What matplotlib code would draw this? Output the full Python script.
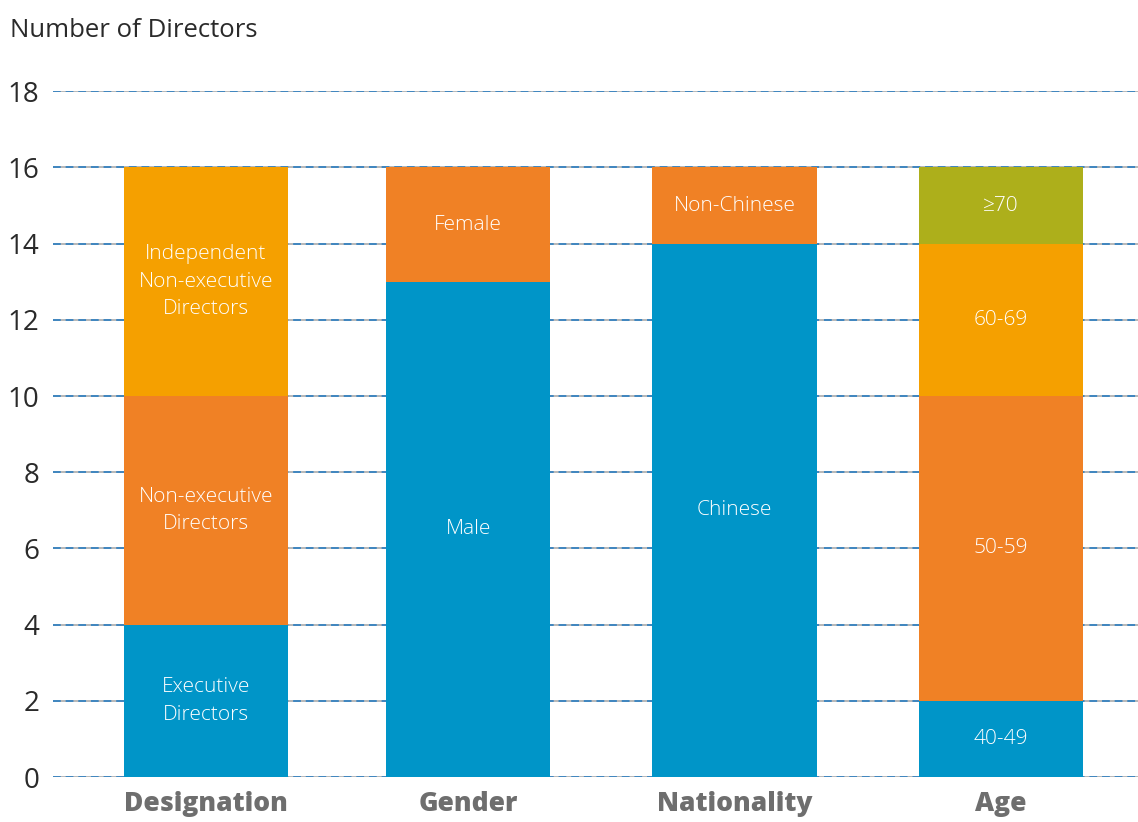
import matplotlib
matplotlib.use("Agg")
import matplotlib.pyplot as plt
import numpy as np

categories = ["Designation", "Gender", "Nationality", "Age"]
segments = {
    "Designation": [("Executive\nDirectors", 4), ("Non-executive\nDirectors", 6),
                    ("Independent\nNon-executive\nDirectors", 6)],
    "Gender": [("Male", 13), ("Female", 3)],
    "Nationality": [("Chinese", 14), ("Non-Chinese", 2)],
    "Age": [("40-49", 2), ("50-59", 8), ("60-69", 4), ("≥70", 2)],
}
seg_colors = {
    "Designation": ["#0095C8", "#F08125", "#F5A000"],
    "Gender": ["#0095C8", "#F08125"],
    "Nationality": ["#0095C8", "#F08125"],
    "Age": ["#0095C8", "#F08125", "#F5A000", "#ADAF1B"],
}
yticks = [0, 2, 4, 6, 8, 10, 12, 14, 16, 18]

fig = plt.figure(figsize=(11.38, 8.22), dpi=100)
ax = fig.add_axes([0.0466, 0.0547, 0.9534, 0.8343])

x = np.array([0, 0.99, 1.994, 3.0])
width = 0.62
for xi, cat in zip(x, categories):
    bottom = 0
    for (lab, val), col in zip(segments[cat], seg_colors[cat]):
        ax.bar(xi, val, width=width, bottom=bottom, color=col, zorder=3, linewidth=0)
        ax.text(xi, bottom + val / 2, lab, ha="center", va="center", color="white",
                fontsize=15, family=["Open Sans", "DejaVu Sans"], fontweight="light",
                linespacing=1.5, zorder=4)
        bottom += val

for y in yticks:
    ax.axhline(y, color="#b8b8b8", lw=1.4, zorder=1)
    ax.axhline(y, color="#3f86c0", lw=1.4, ls=(0, (4, 2.5)), zorder=2)

ax.set_xlim(-0.577, 3.517)
ax.set_ylim(0, 18)
ax.set_yticks(yticks)
ax.set_yticklabels([str(v) for v in yticks], fontsize=20, color="#2a2a2a",
                   family="Open Sans")
ax.tick_params(axis="y", length=0, pad=10)
ax.set_xticks(x)
ax.set_xticklabels(categories, fontsize=19, color="#6e6e6e", family="Open Sans",
                   fontweight="heavy")
ax.tick_params(axis="x", length=0, pad=10)
for s in ax.spines.values():
    s.set_visible(False)

fig.text(0.009, 0.963, "Number of Directors", fontsize=18.5, color="#2a2a2a",
         family="Open Sans", va="center", ha="left")

fig.savefig("out.png", dpi=100)
